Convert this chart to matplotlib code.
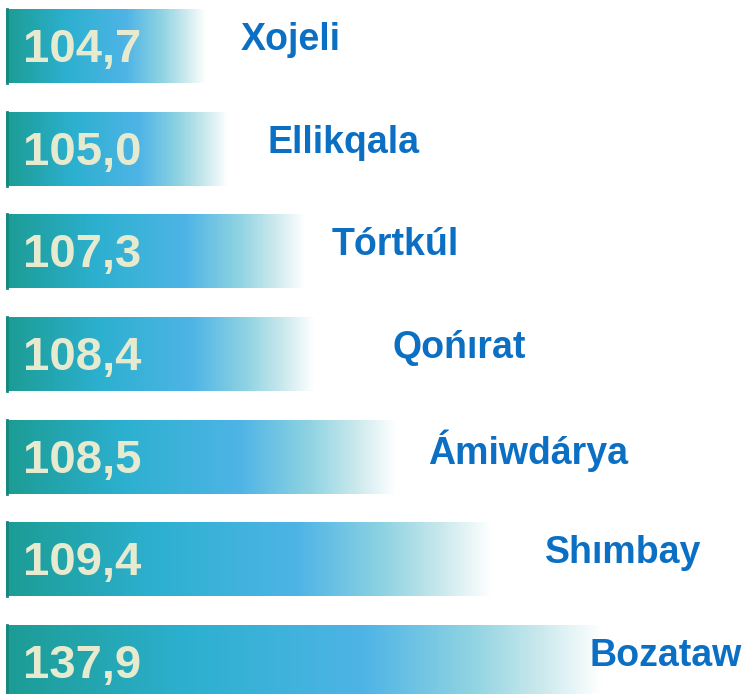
import numpy as np
import matplotlib.pyplot as plt
from matplotlib.colors import LinearSegmentedColormap

districts = ["Xojeli", "Ellikqala", "Tórtkúl", "Qońırat", "Ámiwdárya", "Shımbay", "Bozataw"]
values = [104.7, 105.0, 107.3, 108.4, 108.5, 109.4, 137.9]
# drawn lengths of the bars in the infographic (not proportional to the values)
bar_length = [200, 222, 299, 309, 390, 486, 596]

# layout
bar_left = 6
label_gap = [35, 40, 27, 77, 32, 53, -12]

grad = LinearSegmentedColormap.from_list(
    "bar", [(0.0, "#1c9c94"), (0.3, "#2cb0cf"), (0.6, "#4eb4e6"),
            (0.78, "#8fd3e2"), (0.9, "#cbe9ed"), (1.0, "#ffffff")])

fig = plt.figure(figsize=(7.43, 6.94), dpi=100)
ax = fig.add_axes([0, 0, 1, 1])
ax.set_xlim(0, 743)
# row 0 centred at 46 px, row 6 at 662 px
step = (662 - 46) / 6
ax.set_ylim(6 + (694 - 662) / step, -46 / step)
ax.axis("off")

h = 0.72
ramp = np.linspace(0, 1, 256).reshape(1, -1)
for i, (name, v, L) in enumerate(zip(districts, values, bar_length)):
    ax.imshow(ramp, cmap=grad, aspect="auto", interpolation="bicubic",
              extent=(bar_left, bar_left + L, i + h / 2, i - h / 2), zorder=1)
    ax.plot([bar_left + 1, bar_left + 1], [i - h / 2, i + h / 2], color="#16877f", lw=2, zorder=2)
    ax.text(bar_left + 17, i + 0.04, f"{v:.1f}".replace(".", ","), color="#e6ebd0",
            fontsize=34, fontweight="bold", family="Liberation Sans",
            va="center", ha="left", zorder=3)
    ax.text(bar_left + L + label_gap[i], i - 0.06, name, color="#0b6fc3",
            fontsize=27, fontweight="bold", family="Liberation Sans",
            va="center", ha="left", zorder=3)

ax.set_xlim(0, 743)
fig.savefig("out.png", dpi=100)
